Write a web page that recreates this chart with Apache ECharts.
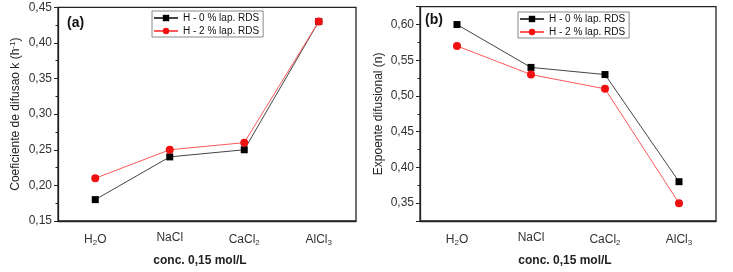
<!DOCTYPE html>
<html>
<head>
<meta charset="utf-8">
<script src="https://cdn.jsdelivr.net/npm/echarts@6/dist/echarts.min.js"></script>
<style>
  html, body { margin: 0; padding: 0; background: #fff; }
  #chart { width: 733px; height: 272px; }
</style>
</head>
<body>
<div id="chart"></div>
<script>
// categories (rich text keys for subscripts)
const categories = ['H{s|2}O', 'NaCl', 'CaCl{s|2}', 'AlCl{s|3}']
const seriesNames = ['H - 0 % lap. RDS', 'H - 2 % lap. RDS']

// (a) coeficiente de difusao k
const kH0 = [0.18, 0.24, 0.25, 0.43]
const kH2 = [0.21, 0.25, 0.26, 0.43]

// (b) expoente difusional n
const nH0 = [0.60, 0.54, 0.53, 0.38]
const nH2 = [0.57, 0.53, 0.51, 0.35]

const font = 'Arial, "Liberation Sans", sans-serif'
const fmt = v => v.toFixed(2).replace('.', ',')

const myChart = echarts.init(document.getElementById('chart'))

const xMain = (gi) => ({
  type: 'category', gridIndex: gi, data: categories,
  name: 'conc. 0,15 mol/L', nameLocation: 'middle', nameGap: 34,
  nameTextStyle: { fontFamily: font, fontSize: 12, fontWeight: 'bold', color: '#222', padding: gi === 0 ? [0, 14, 0, 0] : [0, 6, 0, 0] },
  axisLine: { lineStyle: { color: '#222', width: 1.3 } },
  axisTick: { alignWithLabel: true, length: 4, lineStyle: { color: '#222' } },
  axisLabel: {
    margin: 11, fontFamily: font, fontSize: 12, color: '#333',
    rich: { s: { fontSize: 8, padding: [7, 0, 0, 0], fontFamily: font, color: '#333' } }
  },
  splitLine: { show: false }
})
// second x axis only for the minor ticks between categories
const xMinor = (gi) => ({
  type: 'category', gridIndex: gi, data: categories, position: 'bottom',
  axisLine: { show: false }, axisLabel: { show: false },
  axisTick: { length: 3, lineStyle: { color: '#222' } },
  splitLine: { show: false }
})
const yAxis = (gi, min, max, name) => ({
  type: 'value', gridIndex: gi, min: min, max: max, splitNumber: 6,
  name: name, nameLocation: 'middle', nameGap: 35,
  nameTextStyle: { fontFamily: font, fontSize: 12, color: '#222',
    rich: { sup: { fontSize: 8, padding: [0, 0, 6, 0], fontFamily: font, color: '#222' } } },
  axisLine: { show: true, lineStyle: { color: '#222', width: 1.3 } },
  axisTick: { show: true, length: 4, lineStyle: { color: '#222' } },
  minorTick: { show: true, splitNumber: 2, length: 2.5, lineStyle: { color: '#222' } },
  axisLabel: { formatter: fmt, fontFamily: font, fontSize: 12, color: '#333', margin: 6,
    showMinLabel: min === 0.15, showMaxLabel: max === 0.45 },
  splitLine: { show: false }
})
const line = (name, gi, data, black) => ({
  name: name, type: 'line', xAxisIndex: gi * 2, yAxisIndex: gi, data: data,
  symbol: black ? 'rect' : 'circle', symbolSize: black ? 7 : 8,
  itemStyle: { color: black ? '#000' : '#f01010' },
  lineStyle: { color: black ? '#444' : '#ff5a5a', width: 1 },
  z: black ? 2 : 3
})
const legend = (left, top) => ({
  orient: 'vertical', left: left, top: top, data: seriesNames,
  itemWidth: 24, itemHeight: 8, itemGap: 3, padding: [2, 4, 1, 1],
  borderColor: '#888', borderWidth: 1,
  textStyle: { fontFamily: font, fontSize: 10, color: '#111' }
})

const option = {
  backgroundColor: '#fff',
  animation: false,
  grid: [
    { left: 58, top: 7.3, width: 298, height: 220.4, show: true, borderColor: '#222', borderWidth: 1.3 },
    { left: 420, top: 6.7, width: 296, height: 219.3, show: true, borderColor: '#222', borderWidth: 1.3 }
  ],
  legend: [legend(152, 11), legend(518, 12)],
  xAxis: [xMain(0), xMinor(0), xMain(1), xMinor(1)],
  yAxis: [
    yAxis(0, 0.15, 0.45, 'Coeficiente de difusao k (h{sup|-1})'),
    yAxis(1, 0.325, 0.625, 'Expoente difusional (n)')
  ],
  graphic: [
    { type: 'text', left: 67, top: 16, style: { text: '(a)', font: 'bold 14px Arial, "Liberation Sans", sans-serif', fill: '#111' } },
    { type: 'text', left: 425, top: 13, style: { text: '(b)', font: 'bold 14px Arial, "Liberation Sans", sans-serif', fill: '#111' } }
  ],
  series: [
    line(seriesNames[0], 0, kH0, true),
    line(seriesNames[1], 0, kH2, false),
    line(seriesNames[0], 1, nH0, true),
    line(seriesNames[1], 1, nH2, false)
  ]
}
myChart.setOption(option)
window.addEventListener('resize', () => myChart.resize())
</script>
</body>
</html>
